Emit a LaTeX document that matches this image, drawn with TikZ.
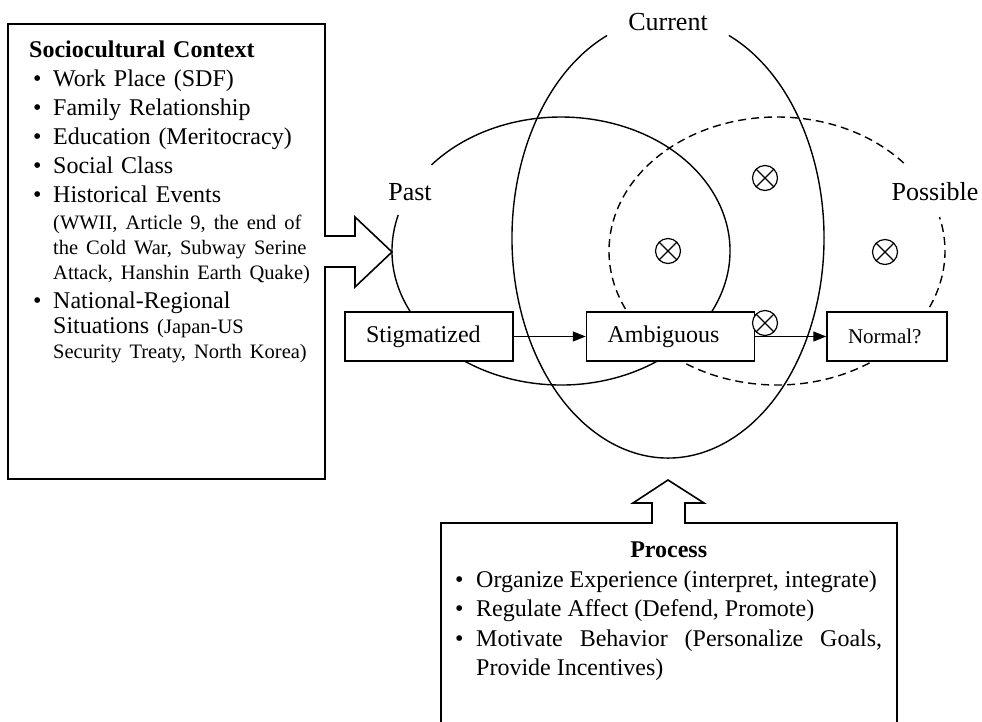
\documentclass[tikz,border=0pt]{standalone}
\usepackage{fontspec}
\setmainfont{Liberation Serif}
\usetikzlibrary{arrows.meta, calc, positioning}

\newcommand{\smallsz}{\fontsize{20.5}{25}\selectfont}
\newcommand{\ctxitem}{\noindent\hangindent=24pt\hangafter=1\hspace*{4pt}\makebox[20pt][l]{\textbullet}}
\newcommand{\ctxcont}{\noindent\hspace*{24pt}}
\newcommand{\procitem}{\noindent\hangindent=21pt\hangafter=1\makebox[21pt][l]{\textbullet}}

\tikzset{
  ring/.style={line width=1.4pt},
  blockarrow/.style={line width=1.6pt, line join=miter},
  stage/.style={draw, line width=1.5pt, fill=white, minimum height=49pt, inner xsep=21pt, align=left, font=\fontsize{24}{29}\selectfont},
  flow/.style={line width=1.3pt, -{Triangle[length=13pt, width=10pt]}},
  timelab/.style={font=\fontsize{26}{30}\selectfont},
  cross/.style={circle, draw, fill=white, line width=1.2pt, minimum size=25pt, inner sep=0pt,
    path picture={\draw[line width=1.2pt] (path picture bounding box.north west) -- (path picture bounding box.south east)
      (path picture bounding box.north east) -- (path picture bounding box.south west);}}
}

\begin{document}
\begin{tikzpicture}[x=1pt, y=1pt]
  \useasboundingbox (0,0) rectangle (982,-721);

  % selves
  \coordinate (pastc) at (561,-251);
  \coordinate (curc) at (668,-238);
  \coordinate (possc) at (777,-251);
  \draw[ring] ($(pastc)+(164.4:169 and 134)$) arc[start angle=164.4, end angle=500, x radius=169, y radius=134];
  \draw[ring] ($(curc)+(113:156 and 220)$) arc[start angle=113, end angle=427, x radius=156, y radius=220];
  \draw[ring, dash pattern=on 8pt off 5pt] ($(possc)+(41:168 and 134)$) arc[start angle=41, end angle=374.7, x radius=168, y radius=134];

  \node[timelab] (past) at (410,-192) {Past};
  \node[timelab] (current) at (668,-22) {Current};
  \node[timelab] (possible) at (935,-192) {Possible};

  % sociocultural context with arrow
  \draw[blockarrow] (325,-236) -- (355,-236) -- (355,-217) -- (392,-252) -- (355,-287) -- (355,-267) -- (325,-267)
    -- (325,-479) -- (8,-479) -- (8,-24) -- (325,-24) -- cycle;
  \node[anchor=north west, inner sep=0pt, text width=296pt, align=left, font=\fontsize{24}{29}\selectfont] (ctx) at (29,-41) {
    {\bfseries Sociocultural Context}\par
    \ctxitem Work Place (SDF)\par
    \ctxitem Family Relationship\par
    \ctxitem Education (Meritocracy)\par
    \ctxitem Social Class\par
    \ctxitem Historical Events\par
    {\smallsz\vspace{2pt}\ctxcont (WWII, Article 9, the end of\par
    \ctxcont the Cold War, Subway Serine\par
    \ctxcont Attack, Hanshin Earth Quake)\par}
    \ctxitem National-Regional\par
    \ctxcont Situations {\smallsz (Japan-US\par}
    {\smallsz\ctxcont Security Treaty, North Korea)\par}
  };

  % process with arrow
  \draw[blockarrow] (441,-523) -- (652,-523) -- (652,-503) -- (633,-503) -- (668,-480) -- (704,-503) -- (685,-503)
    -- (685,-523) -- (897,-523) -- (897,-740) -- (441,-740) -- cycle;
  \node[anchor=north west, inner sep=0pt, text width=427pt, align=justify, font=\fontsize{24}{29.5}\selectfont] (proc) at (455,-542) {
    \tolerance=10000\relax\hyphenpenalty=10000\relax
    {\centering\bfseries Process\par}
    \procitem Organize Experience (interpret, integrate)\par
    \procitem Regulate Affect (Defend, Promote)\par
    \procitem Motivate Behavior (Personalize Goals,\linebreak Provide Incentives)\par
  };

  % stages
  \node[stage, text width=126pt] (stig) at (429,-336.5) {Stigmatized};
  \node[stage, text width=126pt, right=72pt of stig] (ambi) {Ambiguous};
  \node[stage, text width=78pt, right=71pt of ambi, font=\fontsize{21}{25}\selectfont] (norm) {Normal?};
  \draw[flow] (stig) -- (ambi);
  \draw[flow] (ambi) -- (norm);

  % possible selves markers
  \node[cross] (o1) at (765,-178) {};
  \node[cross] (o2) at (668,-251) {};
  \node[cross] (o3) at (885,-252) {};
  \node[cross] (o4) at (765,-323) {};
\end{tikzpicture}
\end{document}
